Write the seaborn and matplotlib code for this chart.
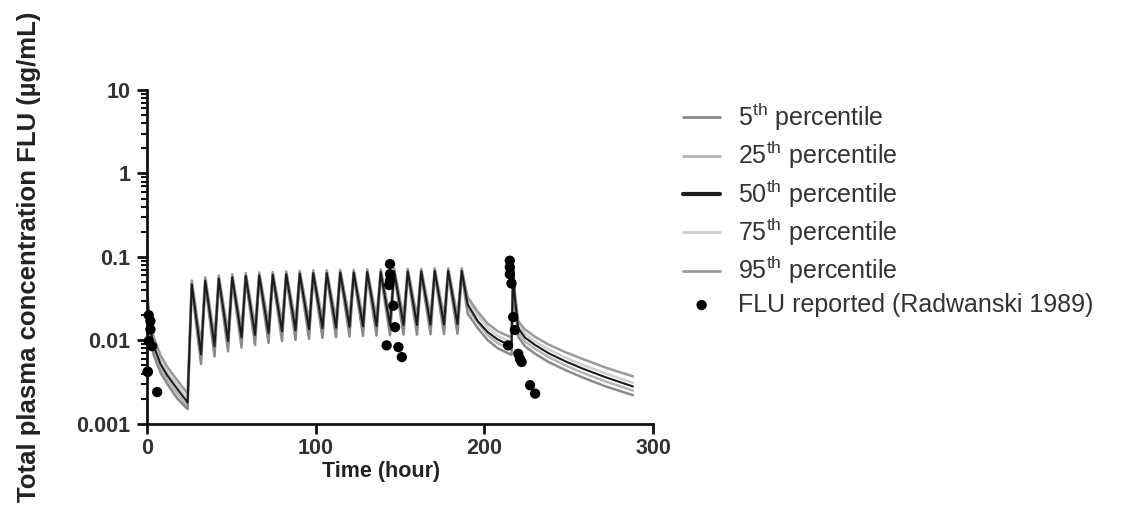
import matplotlib
matplotlib.use("Agg")
import matplotlib.pyplot as plt
import seaborn as sns
from matplotlib.ticker import LogLocator, NullFormatter

# simulated percentiles (time in hours, concentration in ug/mL)
hours = [0, 1, 2, 4, 8, 12, 18, 24,
         26.5, 32, 34.5, 40, 42.5, 48, 50.5, 56, 58.5, 64, 66.5, 72, 74.5, 80, 82.5, 88, 90.5,
         96, 98.5, 104, 106.5, 112, 114.5, 120, 122.5, 128, 130.5, 136, 138.5, 144, 146.5,
         152, 154.5, 160, 162.5, 168, 170.5, 176, 178.5, 184, 186.5,
         190, 196, 202, 208, 216, 217, 218, 220, 224, 230, 238, 248, 258, 272, 288]

p5 = [0.023, 0.015, 0.0106, 0.0066, 0.0041, 0.003, 0.002, 0.0015,
      0.043, 0.0052, 0.047, 0.0064, 0.050, 0.0074, 0.052, 0.0082, 0.054, 0.0088, 0.055,
      0.0093, 0.056, 0.0098, 0.057, 0.0101, 0.058, 0.0104, 0.059, 0.0107, 0.059, 0.0109,
      0.060, 0.0111, 0.060, 0.0113, 0.061, 0.0114, 0.061, 0.0115, 0.062, 0.0117, 0.062,
      0.0117, 0.062, 0.0118, 0.063, 0.0119, 0.063, 0.012, 0.063,
      0.021, 0.014, 0.01, 0.008, 0.0067, 0.066, 0.026, 0.011, 0.0085, 0.0069, 0.0055,
      0.0044, 0.0036, 0.0028, 0.0022]

p25 = [0.027, 0.017, 0.0122, 0.0076, 0.0047, 0.0034, 0.0023, 0.0016,
       0.045, 0.0061, 0.050, 0.0077, 0.053, 0.0088, 0.055, 0.0097, 0.057, 0.0104, 0.058,
       0.011, 0.059, 0.0115, 0.060, 0.0119, 0.061, 0.0122, 0.062, 0.0126, 0.062, 0.0128,
       0.063, 0.013, 0.063, 0.0132, 0.064, 0.0134, 0.064, 0.0135, 0.065, 0.0137, 0.065,
       0.0138, 0.065, 0.0139, 0.066, 0.014, 0.066, 0.014, 0.066,
       0.0245, 0.0163, 0.0115, 0.0092, 0.0077, 0.069, 0.029, 0.0126, 0.0097, 0.0079, 0.0063,
       0.005, 0.0041, 0.0032, 0.0025]

p50 = [0.030, 0.019, 0.0135, 0.0085, 0.0052, 0.0038, 0.0026, 0.0018,
       0.047, 0.0068, 0.052, 0.0085, 0.055, 0.0098, 0.057, 0.0108, 0.059, 0.0116, 0.060,
       0.0122, 0.061, 0.0128, 0.062, 0.0132, 0.063, 0.0136, 0.064, 0.014, 0.064, 0.0142,
       0.065, 0.0145, 0.065, 0.0147, 0.066, 0.0149, 0.066, 0.015, 0.067, 0.0152, 0.067,
       0.0153, 0.067, 0.0154, 0.068, 0.0155, 0.068, 0.0156, 0.068,
       0.027, 0.017, 0.0125, 0.0102, 0.0085, 0.072, 0.032, 0.014, 0.0108, 0.0088, 0.007,
       0.0056, 0.0046, 0.0036, 0.0028]

p75 = [0.034, 0.021, 0.015, 0.0095, 0.0058, 0.0042, 0.0029, 0.0020,
       0.049, 0.0076, 0.054, 0.0094, 0.057, 0.0108, 0.059, 0.0119, 0.061, 0.0128, 0.062,
       0.0134, 0.063, 0.0141, 0.064, 0.0145, 0.065, 0.015, 0.066, 0.0154, 0.066, 0.0156,
       0.067, 0.016, 0.067, 0.0162, 0.068, 0.0164, 0.068, 0.0165, 0.069, 0.0167, 0.069,
       0.0168, 0.069, 0.0169, 0.070, 0.0171, 0.070, 0.0172, 0.070,
       0.030, 0.0198, 0.0141, 0.0113, 0.0094, 0.075, 0.034, 0.0155, 0.012, 0.0097, 0.0078,
       0.0062, 0.0051, 0.004, 0.0031]

p95 = [0.040, 0.024, 0.017, 0.0108, 0.0066, 0.0048, 0.0033, 0.0023,
       0.052, 0.0088, 0.057, 0.0108, 0.060, 0.0124, 0.062, 0.0136, 0.064, 0.0146, 0.065,
       0.0154, 0.066, 0.016, 0.067, 0.0166, 0.068, 0.017, 0.069, 0.0175, 0.069, 0.0178,
       0.070, 0.0181, 0.070, 0.0184, 0.071, 0.0186, 0.071, 0.0188, 0.072, 0.019, 0.072,
       0.0191, 0.072, 0.0192, 0.073, 0.0194, 0.073, 0.0195, 0.073,
       0.033, 0.022, 0.0158, 0.0128, 0.0108, 0.078, 0.037, 0.017, 0.0135, 0.011, 0.0089,
       0.0072, 0.006, 0.0047, 0.0037]

# reported data (Radwanski 1989)
obs_hours = [0.5, 1, 2, 2, 1, 3, 0.3, 6,
             144, 144, 144, 143.5, 146, 147, 142, 149, 151,
             215, 215, 215, 216, 217, 218, 214, 220, 221, 222, 227, 230]
obs_conc = [0.0042, 0.02, 0.017, 0.0135, 0.0098, 0.0085, 0.0042, 0.0024,
            0.082, 0.062, 0.052, 0.046, 0.026, 0.0144, 0.0087, 0.0083, 0.0063,
            0.09, 0.075, 0.062, 0.048, 0.019, 0.0133, 0.0087, 0.0069, 0.006, 0.0055, 0.0029, 0.0023]

sns.set_theme(style="ticks")
plt.rcParams['font.family'] = ['Liberation Sans', 'DejaVu Sans']
plt.rcParams['mathtext.fontset'] = 'custom'
plt.rcParams['mathtext.rm'] = 'Liberation Sans'

fig = plt.figure(figsize=(11.4, 5.2), dpi=100)
ax = fig.add_axes([0.129, 0.185, 0.444, 0.642])

series = [
    (p25, '#b4b4b4', 1.8, r'25$^{\mathrm{th}}$ percentile'),
    (p75, '#cfcfcf', 1.8, r'75$^{\mathrm{th}}$ percentile'),
    (p5, '#8a8a8a', 1.8, r'5$^{\mathrm{th}}$ percentile'),
    (p95, '#9a9a9a', 1.8, r'95$^{\mathrm{th}}$ percentile'),
    (p50, '#1c1c1c', 1.5, r'50$^{\mathrm{th}}$ percentile'),
]
for vals, col, lw, lab in series:
    sns.lineplot(x=hours, y=vals, color=col, linewidth=lw, label=lab, ax=ax,
                 estimator=None, sort=False)

sns.scatterplot(x=obs_hours, y=obs_conc, color='black', s=55, edgecolor='none',
                label='FLU reported (Radwanski 1989)', ax=ax, clip_on=False, zorder=5)

ax.set_yscale('log')
ax.set_xlim(0, 300)
ax.set_ylim(0.001, 10)
ax.set_xticks([0, 100, 200, 300])
ax.set_xticklabels(['0', '100', '200', '300'])
ax.set_yticks([0.001, 0.01, 0.1, 1, 10])
ax.set_yticklabels(['0.001', '0.01', '0.1', '1', '10'])
ax.yaxis.set_minor_locator(LogLocator(base=10, subs=range(2, 10)))
ax.yaxis.set_minor_formatter(NullFormatter())

sns.despine(ax=ax)
for s in ['left', 'bottom']:
    ax.spines[s].set_linewidth(2)
    ax.spines[s].set_color('#111111')
ax.tick_params(axis='both', which='major', length=7, width=2, labelsize=15.5,
               colors='#111111', pad=5)
ax.tick_params(axis='x', which='major', pad=3)
ax.tick_params(axis='y', which='minor', length=4, width=1.5, colors='#111111')
for lab in ax.get_xticklabels() + ax.get_yticklabels():
    lab.set_fontweight('bold')
    lab.set_color('#333333')

ax.set_xlabel('Time (hour)', fontsize=15.5, fontweight='bold', color='#222222')
ax.xaxis.set_label_coords(0.462, -0.11)
ax.set_ylabel('Total plasma concentration FLU (µg/mL)', fontsize=18.5,
              fontweight='bold', color='#222222')
ax.yaxis.set_label_coords(-0.21, 0.5)

# legend in the original order: 5th .. 95th, then the observed data
handles, labels = ax.get_legend_handles_labels()
order = [2, 0, 4, 1, 3, 5]
ax.legend([handles[i] for i in order], [labels[i] for i in order],
          loc='upper left', bbox_to_anchor=(0.599, 0.806), bbox_transform=fig.transFigure,
          frameon=False, fontsize=18, handlelength=1.5, handletextpad=0.7,
          labelspacing=0.25, borderpad=0, borderaxespad=0, labelcolor='#333333')
leg = ax.get_legend()
for line in leg.get_lines()[:5]:
    line.set_linewidth(2.0)
leg.get_lines()[2].set_linewidth(3.0)

fig.savefig('out.png', dpi=100)
